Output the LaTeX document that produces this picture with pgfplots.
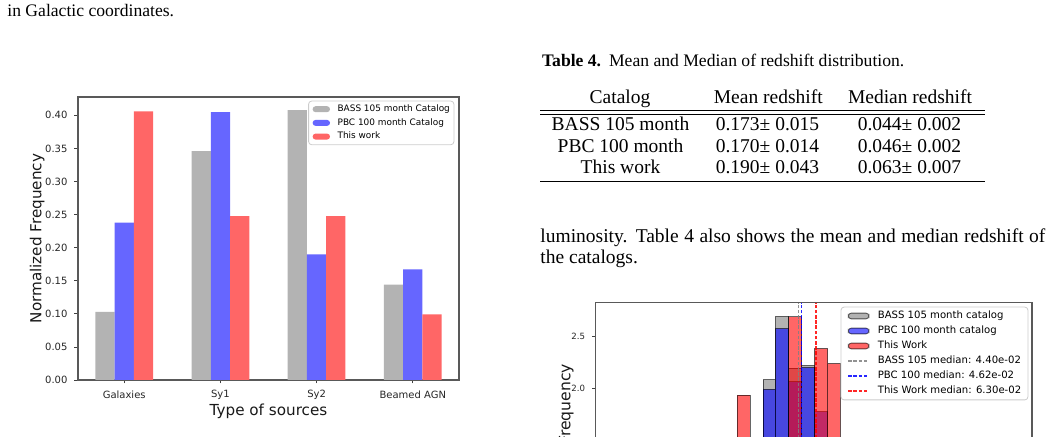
\documentclass[border=0pt]{standalone}
\usepackage{pgfplots}
\pgfplotsset{compat=1.18}
\usepackage{fontspec}
\setmainfont{Liberation Serif}
\newfontfamily\dejavu{DejaVu Sans}

\definecolor{barGray}{RGB}{179,179,179}
\definecolor{barBlue}{RGB}{102,102,255}
\definecolor{barRed}{RGB}{255,102,102}

\pgfplotsset{
  mainpatch/.style={legend image code/.code={\fill[##1] (0pt,-1.5pt) rectangle (8.7pt,1.5pt); \path (12.5pt,0pt);}},
  histpatch/.style={legend image code/.code={\draw[##1] (0pt,-1.43pt) rectangle (10.35pt,1.43pt); \path (14.5pt,0pt);}},
  histline/.style={legend image code/.code={\draw[##1] (0pt,0pt) -- (10.35pt,0pt); \path (14.5pt,0pt);}},
  histbar/.style={ybar interval, fill opacity=0.6, draw=black, draw opacity=0.6, line width=0.45pt, forget plot},
  median/.style={line width=0.55pt, dash pattern=on 1.8pt off 0.8pt, draw opacity=0.85},
}

\tikzset{
  captiontext/.style={inner sep=0pt, font=\fontsize{8.8}{10.5}\selectfont},
  bodytext/.style={inner sep=0pt, font=\fontsize{9.75}{11.5}\selectfont},
}

\begin{document}
\begin{tikzpicture}
\useasboundingbox (0,0) rectangle (529pt,-218.5pt);
\clip (0,0) rectangle (529pt,-218.5pt);

% running text of the page
\node[captiontext, anchor=base west] at (3.5pt,-8.3pt) {in Galactic coordinates.};

% Table 4
\node[captiontext, anchor=base west] at (270.85pt,-33.35pt) {\textbf{Table 4.}\hspace{0.45em}Mean and Median of redshift distribution.};
\node[bodytext, anchor=base] at (310pt,-51.8pt) {Catalog};
\node[bodytext, anchor=base] at (384.15pt,-51.8pt) {Mean redshift};
\node[bodytext, anchor=base] at (455pt,-51.8pt) {Median redshift};
\draw[line width=0.5pt] (270pt,-55.35pt) -- (492.5pt,-55.35pt);
\draw[line width=0.5pt] (270pt,-57.5pt) -- (492.5pt,-57.5pt);
\node[bodytext, anchor=base] at (310.25pt,-65.35pt) {BASS 105 month};
\node[bodytext, anchor=base] at (383.75pt,-65.35pt) {0.173± 0.015};
\node[bodytext, anchor=base] at (454.75pt,-65.35pt) {0.044± 0.002};
\node[bodytext, anchor=base] at (310.25pt,-76.15pt) {PBC 100 month};
\node[bodytext, anchor=base] at (383.75pt,-76.15pt) {0.170± 0.014};
\node[bodytext, anchor=base] at (454.75pt,-76.15pt) {0.046± 0.002};
\node[bodytext, anchor=base] at (310.25pt,-87pt) {This work};
\node[bodytext, anchor=base] at (383.75pt,-87pt) {0.190± 0.043};
\node[bodytext, anchor=base] at (454.75pt,-87pt) {0.063± 0.007};
\draw[line width=0.5pt] (270pt,-90.85pt) -- (492.5pt,-90.85pt);

\node[bodytext, anchor=base west] at (270pt,-121.15pt) {\makebox[252.5pt][s]{luminosity. Table 4 also shows the mean and median redshift of}};
\node[bodytext, anchor=base west] at (270pt,-132pt) {the catalogs.};

% source type fractions
\begin{axis}[
  at={(39pt,-190pt)}, anchor=south west, scale only axis,
  width=190.5pt, height=141.5pt,
  xmin=-0.48, xmax=3.48, ymin=0, ymax=0.4277,
  xtick={0,1,2,3}, xticklabels={Galaxies,Sy1,Sy2,Beamed AGN},
  ytick={0,0.05,0.1,0.15,0.2,0.25,0.3,0.35,0.4},
  yticklabel style={/pgf/number format/.cd, fixed, fixed zerofill, precision=2},
  /pgf/number format/assume math mode=true,
  tick label style={font=\dejavu\fontsize{5}{6}\selectfont, text=black!85},
  tick align=outside, major tick length=1.75pt,
  xtick pos=bottom, ytick pos=left,
  tick style={black!75, line width=0.4pt},
  axis line style={black!65, line width=0.6pt},
  xlabel={Type of sources}, ylabel={Normalized Frequency},
  xlabel shift=-5pt, ylabel shift=-6.5pt,
  label style={font=\dejavu\fontsize{7.6}{9}\selectfont, text=black!90},
  legend cell align=left,
  legend style={at={(1,1)}, anchor=north east, xshift=-2.35pt, yshift=-1.85pt,
    draw=black!20, rounded corners=1.5pt, inner xsep=2pt, inner ysep=2pt,
    font=\dejavu\fontsize{4.46}{5.5}\selectfont, row sep=2.75pt,
    nodes={inner sep=0pt, text height=3.2pt, text depth=0.9pt}},
]
\addplot[ybar, bar width=0.2, bar shift=-0.2, fill=barGray, draw=none, mainpatch]
  coordinates {(0,0.103) (1,0.346) (2,0.408) (3,0.144)};
\addlegendentry{BASS 105 month Catalog}
\addplot[ybar, bar width=0.2, bar shift=0, fill=barBlue, draw=none, mainpatch]
  coordinates {(0,0.238) (1,0.405) (2,0.190) (3,0.167)};
\addlegendentry{PBC 100 month Catalog}
\addplot[ybar, bar width=0.2, bar shift=0.2, fill=barRed, draw=none, mainpatch]
  coordinates {(0,0.406) (1,0.2475) (2,0.2475) (3,0.099)};
\addlegendentry{This work}
\end{axis}

% redshift distribution
\begin{axis}[
  at={(297.65pt,-299.65pt)}, anchor=south west, scale only axis,
  width=218.35pt, height=148.3pt,
  xmode=log, xmin=6.47e-4, xmax=5.56, ymin=0, ymax=2.816,
  xticklabel=\empty,
  ytick={0,0.5,1,1.5,2,2.5},
  yticklabel style={/pgf/number format/.cd, fixed, fixed zerofill, precision=1},
  /pgf/number format/assume math mode=true,
  tick label style={font=\dejavu\fontsize{4.3}{5}\selectfont, text=black!85},
  tick align=outside, major tick length=1.6pt,
  xtick pos=bottom, ytick pos=left,
  tick style={black!75, line width=0.4pt},
  axis line style={black!65, line width=0.6pt},
  ylabel={Normalized Frequency}, ylabel shift=-8pt,
  label style={font=\dejavu\fontsize{7.8}{9}\selectfont, text=black!90},
  legend cell align=left,
  legend style={at={(1,1)}, anchor=north east, xshift=-1.85pt, yshift=-2pt,
    draw=black!20, rounded corners=1.5pt, inner xsep=3.35pt, inner ysep=2pt,
    font=\dejavu\fontsize{5.05}{6}\selectfont, row sep=2.6pt,
    nodes={inner sep=0pt, text height=3.7pt, text depth=1.2pt}},
]
\addplot[histbar, fill=gray] coordinates
  {(0.02099,2.083) (0.02731,2.684) (0.03576,2.194) (0.04663,2.218) (0.06105,0)};
\addplot[histbar, fill=blue] coordinates
  {(0.02099,1.994) (0.02731,2.570) (0.03576,2.064) (0.04663,2.199) (0.06105,1.782) (0.07998,0)};
\addplot[histbar, fill=red] coordinates {(0.01231,1.937) (0.01606,0)};
\addplot[histbar, fill=red] coordinates {(0.03576,2.684) (0.04663,0)};
\addplot[histbar, fill=red] coordinates {(0.06105,2.380) (0.07998,2.237) (0.1043,0)};

\addlegendimage{histpatch, fill=gray, fill opacity=0.6, draw=black, draw opacity=0.6, line width=0.45pt}
\addlegendentry{BASS 105 month catalog}
\addlegendimage{histpatch, fill=blue, fill opacity=0.6, draw=black, draw opacity=0.6, line width=0.45pt}
\addlegendentry{PBC 100 month catalog}
\addlegendimage{histpatch, fill=red, fill opacity=0.6, draw=black, draw opacity=0.6, line width=0.45pt}
\addlegendentry{This Work}

\addplot[median, gray, histline] coordinates {(0.0440,0) (0.0440,2.816)};
\addlegendentry{BASS 105 median: 4.40e-02}
\addplot[median, blue, histline] coordinates {(0.0462,0) (0.0462,2.816)};
\addlegendentry{PBC 100 median: 4.62e-02}
\addplot[median, red, histline] coordinates {(0.0630,0) (0.0630,2.816)};
\addlegendentry{This Work median: 6.30e-02}
\end{axis}
\end{tikzpicture}
\end{document}
